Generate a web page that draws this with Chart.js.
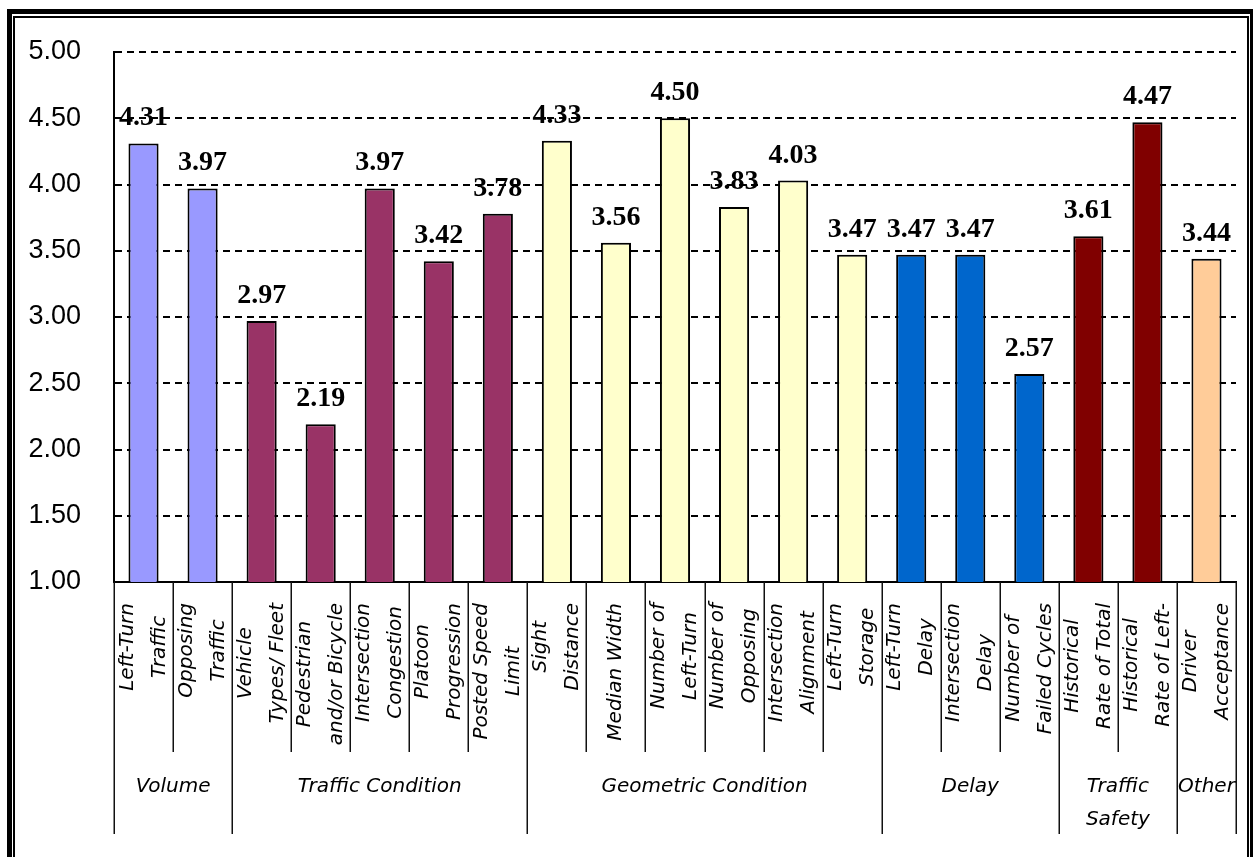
<!DOCTYPE html>
<html>
<head>
<meta charset="utf-8">
<title>Factor ratings</title>
<script src="https://cdn.jsdelivr.net/npm/chart.js@4/dist/chart.umd.min.js"></script>
<style>
  html, body { margin: 0; padding: 0; background: #fff; overflow: hidden; }
  canvas { display: block; }
</style>
</head>
<body>
<canvas id="chart" width="1253" height="857"></canvas>
<script>
// Factor names, one entry per bar (each inner array = stacked text lines)
const categories = [
  ["Left-Turn", "Traffic"],
  ["Opposing", "Traffic"],
  ["Vehicle", "Types/ Fleet"],
  ["Pedestrian", "and/or Bicycle"],
  ["Intersection", "Congestion"],
  ["Platoon", "Progression"],
  ["Posted Speed", "Limit"],
  ["Sight", "Distance"],
  ["Median Width"],
  ["Number of", "Left-Turn"],
  ["Number of", "Opposing"],
  ["Intersection", "Alignment"],
  ["Left-Turn", "Storage"],
  ["Left-Turn", "Delay"],
  ["Intersection", "Delay"],
  ["Number of", "Failed Cycles"],
  ["Historical", "Rate of Total"],
  ["Historical", "Rate of Left-"],
  ["Driver", "Acceptance"]
];

// Mean rating for each factor
const ratings = [4.31, 3.97, 2.97, 2.19, 3.97, 3.42, 3.78, 4.33, 3.56, 4.50, 3.83, 4.03, 3.47, 3.47, 3.47, 2.57, 3.61, 4.47, 3.44];

// Factor groups along the axis
const groupNames = [["Volume"], ["Traffic Condition"], ["Geometric Condition"], ["Delay"], ["Traffic", "Safety"], ["Other"]];
const groupSizes = [2, 5, 6, 3, 2, 1];
const groupColors = ["#9999FF", "#993366", "#FFFFCC", "#0066CC", "#800000", "#FFCC99"];

// Value-axis tick labels
const yTickValues = [1.00, 1.50, 2.00, 2.50, 3.00, 3.50, 4.00, 4.50, 5.00];

// Each bar takes the colour of its group
const barColors = [];
groupSizes.forEach((n, g) => { for (let k = 0; k < n; k++) barColors.push(groupColors[g]); });

const LABEL_FONT = 'italic 20px "DejaVu Sans"';

// Double frame round the whole figure
const framePlugin = {
  id: 'frame',
  beforeDraw(chart) {
    const ctx = chart.ctx;
    const W = chart.width, H = chart.height;
    ctx.save();
    ctx.fillStyle = '#000';
    // outer heavy rule
    ctx.fillRect(7, 9, W - 7, 5);
    ctx.fillRect(7, 9, 5, H - 9);
    ctx.fillRect(W - 3, 9, 3, H - 9);
    // inner thin rule
    ctx.fillRect(13, 16, W - 18, 2);
    ctx.fillRect(13, 16, 2, H - 16);
    ctx.fillRect(W - 6, 16, 2, H - 16);
    ctx.restore();
  }
};

// Value labels above the bars
const valueLabelPlugin = {
  id: 'valueLabels',
  afterDatasetsDraw(chart) {
    const ctx = chart.ctx;
    const meta = chart.getDatasetMeta(0);
    const data = chart.data.datasets[0].data;
    ctx.save();
    ctx.font = 'bold 28px "Liberation Serif"';
    ctx.fillStyle = '#000';
    ctx.textAlign = 'center';
    ctx.textBaseline = 'alphabetic';
    meta.data.forEach((bar, i) => {
      ctx.fillText(data[i].toFixed(2), bar.x, bar.y - 18);
    });
    ctx.restore();
  }
};

// Rotated factor names, group names and the divider lines under the axis
const categoryAxisPlugin = {
  id: 'categoryAxis',
  afterDraw(chart) {
    const ctx = chart.ctx;
    const xs = chart.scales.x;
    const area = chart.chartArea;
    const n = categories.length;
    const half = (xs.getPixelForValue(1) - xs.getPixelForValue(0)) / 2;
    const boundary = i => xs.getPixelForValue(i) - half; // left edge of category i
    const axisY = area.bottom;

    ctx.save();
    ctx.strokeStyle = '#111';
    ctx.lineWidth = 1.5;

    // group boundary indices
    const groupStarts = [0];
    groupSizes.forEach(s => groupStarts.push(groupStarts[groupStarts.length - 1] + s));

    for (let i = 0; i <= n; i++) {
      const x = Math.round(boundary(i)) + 0.25;
      const long = groupStarts.includes(i);
      ctx.beginPath();
      ctx.moveTo(x, axisY);
      ctx.lineTo(x, long ? 834 : 752);
      ctx.stroke();
    }

    // factor names, rotated to read bottom-to-top
    ctx.font = LABEL_FONT;
    ctx.fillStyle = '#000';
    ctx.textAlign = 'center';
    ctx.textBaseline = 'middle';
    categories.forEach((lines, i) => {
      const cx = xs.getPixelForValue(i);
      const maxW = Math.max(...lines.map(t => ctx.measureText(t).width));
      const cy = 603 + maxW / 2;
      lines.forEach((t, k) => {
        const off = lines.length === 1 ? 0 : (k === 0 ? -16 : 16);
        ctx.save();
        ctx.translate(cx + off, cy);
        ctx.rotate(-Math.PI / 2);
        ctx.fillText(t, 0, 0);
        ctx.restore();
      });
    });

    // group names
    groupNames.forEach((lines, g) => {
      const x0 = boundary(groupStarts[g]);
      const x1 = boundary(groupStarts[g + 1]);
      const cx = (x0 + x1) / 2;
      lines.forEach((t, k) => {
        ctx.fillText(t, cx, 787 + k * 33);
      });
    });
    ctx.restore();
  }
};

new Chart(document.getElementById('chart'), {
  type: 'bar',
  data: {
    labels: categories,
    datasets: [{
      data: ratings,
      backgroundColor: barColors,
      borderColor: '#000',
      borderWidth: 2,
      borderSkipped: 'start',
      barPercentage: 0.51,
      categoryPercentage: 1.0
    }]
  },
  options: {
    responsive: false,
    animation: false,
    devicePixelRatio: 1,
    layout: { padding: { left: 0, top: 52, right: 17, bottom: 275 } },
    plugins: {
      legend: { display: false },
      tooltip: { enabled: false },
      title: { display: false }
    },
    scales: {
      x: {
        type: 'category',
        grid: { display: false, drawTicks: false },
        ticks: { display: false },
        border: { display: true, color: '#000', width: 2 },
        afterFit(scale) { scale.height = 0; }
      },
      y: {
        min: 1,
        max: 5,
        afterBuildTicks(scale) { scale.ticks = yTickValues.map(v => ({ value: v })); },
        ticks: {
          padding: 33,
          color: '#000',
          font: { family: '"Liberation Sans"', size: 27 },
          callback: v => Number(v).toFixed(2)
        },
        grid: {
          drawTicks: false,
          lineWidth: 2,
          color: ctx => (ctx.tick && ctx.tick.value === 1) ? 'rgba(0,0,0,0)' : '#000'
        },
        border: { display: true, color: '#000', width: 2, dash: [7, 5] },
        afterFit(scale) { scale.width = 114; }
      }
    }
  },
  plugins: [framePlugin, valueLabelPlugin, categoryAxisPlugin]
});
</script>
</body>
</html>
